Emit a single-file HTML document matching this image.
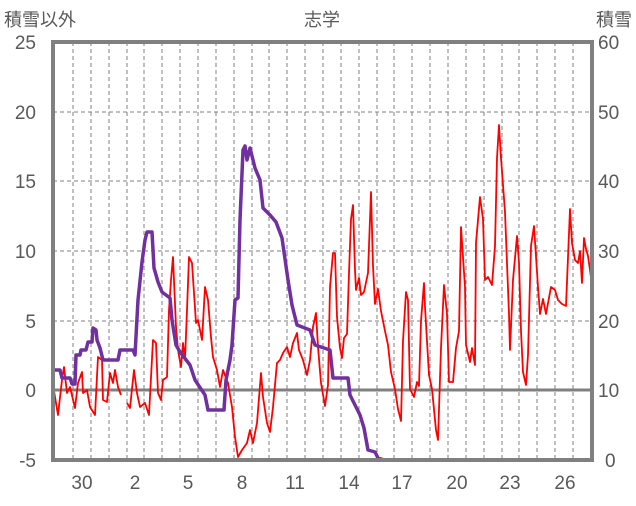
<!DOCTYPE html>
<html><head><meta charset="utf-8"><style>
body{margin:0;background:#fff;}
svg text{font-family:"Liberation Sans","Noto Sans CJK JP",sans-serif;fill:#595959;}
</style></head><body>
<svg width="636" height="501" viewBox="0 0 636 501" xmlns="http://www.w3.org/2000/svg">
<rect width="636" height="501" fill="#fff"/>
<g stroke="#808080" stroke-width="1" stroke-dasharray="4,3">
<line x1="53" y1="112" x2="592" y2="112"/><line x1="53" y1="181" x2="592" y2="181"/>
<line x1="53" y1="251" x2="592" y2="251"/><line x1="53" y1="321" x2="592" y2="321"/>
<g id="v"></g>
</g>
<g stroke="#808080" stroke-width="1" stroke-dasharray="4,3">
<line x1="73" y1="42" x2="73" y2="460"/><line x1="91" y1="42" x2="91" y2="460"/><line x1="109" y1="42" x2="109" y2="460"/><line x1="127" y1="42" x2="127" y2="460"/><line x1="144" y1="42" x2="144" y2="460"/><line x1="162" y1="42" x2="162" y2="460"/><line x1="180" y1="42" x2="180" y2="460"/><line x1="198" y1="42" x2="198" y2="460"/><line x1="216" y1="42" x2="216" y2="460"/><line x1="234" y1="42" x2="234" y2="460"/><line x1="252" y1="42" x2="252" y2="460"/><line x1="269" y1="42" x2="269" y2="460"/><line x1="287" y1="42" x2="287" y2="460"/><line x1="305" y1="42" x2="305" y2="460"/><line x1="323" y1="42" x2="323" y2="460"/><line x1="341" y1="42" x2="341" y2="460"/><line x1="359" y1="42" x2="359" y2="460"/><line x1="377" y1="42" x2="377" y2="460"/><line x1="394" y1="42" x2="394" y2="460"/><line x1="412" y1="42" x2="412" y2="460"/><line x1="430" y1="42" x2="430" y2="460"/><line x1="448" y1="42" x2="448" y2="460"/><line x1="466" y1="42" x2="466" y2="460"/><line x1="484" y1="42" x2="484" y2="460"/><line x1="502" y1="42" x2="502" y2="460"/><line x1="519" y1="42" x2="519" y2="460"/><line x1="537" y1="42" x2="537" y2="460"/><line x1="555" y1="42" x2="555" y2="460"/><line x1="573" y1="42" x2="573" y2="460"/>
</g>
<line x1="53" y1="390" x2="592" y2="390" stroke="#808080" stroke-width="3"/>
<polyline fill="none" stroke="#ff0000" stroke-width="1.8" stroke-linejoin="round" points="53,385 56,403 58,415 62,380 64,367 67,393 70,387 75,408 78,383 82,372 83,393 87,390 90,407 95,415 98,357 102,360 103,400 107,402 110,373 113,383 115,370 118,387 121,395"/>
<polyline fill="none" stroke="#ff0000" stroke-width="1.8" stroke-linejoin="round" points="127,403 130,408 134,370 137,393 140,407 145,403 149,415 153,340 156,343 158,393 161,400 163,380 167,377 169,310 171,280 173,257 176,327 178,350 181,367 183,343 185,360 187,310 189,257 192,263 194,293 196,323 198,320 202,340 203,323 205,287 208,300 211,337 213,357 217,370 220,387 223,370 228,383 232,407 235,437 238,457 242,450 247,443 250,430 253,443 257,423 261,373 263,397 267,423 270,432 273,407 277,363 280,360 283,353 287,347 290,357 293,343 297,333 299,350 303,360 307,375 310,360 313,327 316,313 318,347 321,383 325,406 328,385 330,287 333,253 335,253 337,317 340,348 342,358 344,338 347,334 349,273 351,219 353,205 355,270 356,290 359,278 361,295 364,292 368,273 371,192 373,266 375,304 378,289 381,311 385,331 388,345 391,372 395,389 398,409 401,421 403,341 406,292 408,300 410,389 414,397 417,382 419,386 421,321 424,283 425,307 429,375 432,389 436,430 438,440 441,348 444,285 447,314 449,382 453,382 456,348 459,331 461,227 465,287 466,345 470,362 472,348 475,365 476,243 480,197 483,219 485,280 488,277 492,285 495,246 497,158 499,125 501,158 503,185 505,212 509,314 510,350 513,280 517,236 519,263 521,331 523,372 526,385 528,355 531,246 534,226 538,287 540,314 543,299 546,314 551,287 555,290 558,300 562,304 566,306 570,209 572,243 575,260 578,263 580,251 582,283 584,238 586,249 588,256 590,270 592,285"/>
<polyline fill="none" stroke="#7030a0" stroke-width="3.5" stroke-linejoin="round" points="53,370 60,370 62,378 70,378 72,384 75,384 76,355 80,355 81,350 86,350 88,342 92,342 93,328 96,330 97,340 100,348 103,360 118,360 120,350 133,350 135,355 138,300 142,262 145,240 147,232 152,232 154,268 158,282 162,292 170,298 172,320 176,345 180,352 190,365 195,380 205,395 208,410 224,410 226,380 230,360 232,345 235,300 238,298 240,220 243,150 245,146 247,160 250,148 255,168 260,180 263,208 270,215 276,222 282,238 288,280 292,305 297,325 310,330 315,345 330,350 333,378 348,378 350,395 355,405 360,415 364,428 368,450 375,452 378,458 384,460 592,460"/>
<rect x="53" y="42" width="539" height="418" fill="none" stroke="#808080" stroke-width="4"/>
<g font-size="19" text-anchor="end">
<text x="36" y="49">25</text><text x="36" y="119">20</text><text x="36" y="188">15</text><text x="36" y="258">10</text><text x="36" y="328">5</text><text x="36" y="397">0</text><text x="36" y="467">-5</text>
</g>
<g font-size="19" text-anchor="start">
<text x="598" y="49">60</text><text x="598" y="119">50</text><text x="598" y="188">40</text><text x="598" y="258">30</text><text x="598" y="328">20</text><text x="598" y="397">10</text><text x="605" y="467">0</text>
</g>
<g font-size="19" text-anchor="middle">
<text x="82" y="489">30</text><text x="135" y="489">2</text><text x="188" y="489">5</text><text x="242" y="489">8</text><text x="295" y="489">11</text><text x="349" y="489">14</text><text x="402" y="489">17</text><text x="457" y="489">20</text><text x="510" y="489">23</text><text x="565" y="489">26</text>
</g>
<text x="4" y="26" font-size="18">積雪以外</text>
<text x="322" y="26" font-size="18" text-anchor="middle">志学</text>
<text x="632" y="26" font-size="18" text-anchor="end">積雪</text>
</svg>
</body></html>
